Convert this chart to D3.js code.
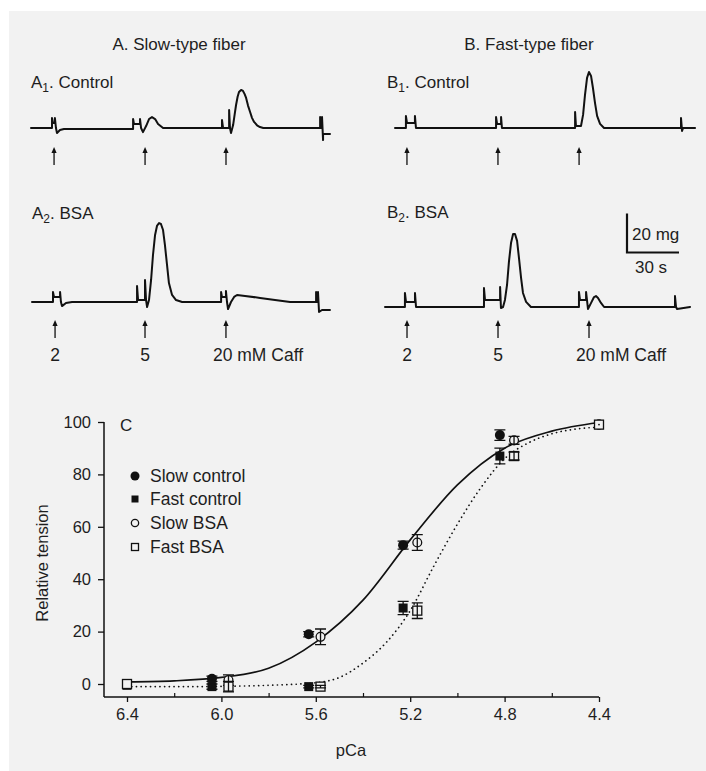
<!DOCTYPE html>
<html><head><meta charset="utf-8">
<script src="https://cdn.jsdelivr.net/npm/d3@7"></script>
<style>
body{margin:0;background:#fff}
svg{display:block}
text{font-family:"Liberation Sans",Arial,Helvetica,sans-serif;fill:#1e1e1e}
</style>
</head><body>
<svg id="c" width="706" height="771"></svg>
<script>
// ---------- Trace recordings: [time (s), tension (mg) relative to baseline] ----------
const traceA1 = [[0,0],[12.1,0],[12.1,5.1],[12.7,2.6],[13.8,2.6],[13.8,5.1],[14.4,0],[15.0,-2.6],[16.7,-1.0],[19.0,-0.5],[58.9,-0.5],[58.9,4.6],[59.4,2.1],[62.9,2.1],[62.9,4.6],[63.5,0],[64.6,-2.1],[66.4,1.0],[68.1,4.6],[69.8,5.6],[71.6,4.6],[73.3,2.1],[76.2,0],[110.2,0],[110.2,4.1],[110.8,0],[114.3,0],[114.3,9.2],[114.8,0],[115.4,-2.6],[116.6,1.5],[117.5,7],[118.3,11.8],[119.2,16],[120.0,18.5],[121.2,19.5],[122.3,19.0],[123.2,17.5],[124.1,15.4],[125.2,11.5],[126.4,8.2],[127.5,5.2],[128.7,3.1],[130.4,1.4],[132.1,0.5],[134,0],[166.8,0],[166.8,5.6],[167.3,0],[167.9,5.6],[168.5,-6.2],[168.5,-3.1],[172.5,-3.1]];
const traceA2 = [[0,0],[12.1,0],[12.1,5.1],[12.7,2.6],[16.2,2.6],[16.2,5.1],[16.7,0],[17.3,-2.1],[19.6,-0.5],[23.1,0],[60.6,0],[60.6,8.2],[61.2,1.0],[65.2,1.0],[65.2,11.3],[65.8,1.0],[66.4,-2.6],[67.5,1.0],[68.7,11.3],[69.8,24.1],[71.0,34.4],[72.1,39.0],[73.3,40.5],[74.4,40.0],[75.6,36.9],[76.7,29.2],[77.9,19.0],[79.0,9.7],[80.8,3.6],[83.1,1.0],[86.6,0],[109.1,0],[109.1,5.1],[109.6,2.6],[111.9,2.6],[111.9,5.6],[112.5,0],[113.1,-3.6],[114.8,0],[116.6,2.6],[118.3,3.6],[122.9,3.1],[131.6,2.1],[140.2,1.0],[148.9,0],[163.9,0],[163.9,5.1],[164.4,0],[165.0,5.1],[165.6,-5.1],[167.3,-4.1],[171.9,-4.1]];
const traceB1 = [[0,0],[6.3,0],[6.3,6.2],[6.9,2.6],[11.5,2.6],[11.5,6.2],[12.1,0],[58.3,0],[58.3,5.6],[58.9,2.1],[61.2,2.1],[61.2,5.6],[61.7,0],[103.9,0],[103.9,8.2],[104.4,1.0],[107.3,1.0],[108.5,6.7],[109.6,16.9],[110.8,25.7],[111.9,28.7],[113.1,26.7],[114.2,20.5],[115.4,12.8],[116.6,6.2],[118.3,2.1],[120.6,0],[165.0,0],[165.0,5.1],[165.6,-1.5],[166.2,0],[173.1,0]];
const traceB2 = [[0,0],[11.5,0],[11.5,7.2],[12.1,2.6],[17.3,2.6],[17.3,7.2],[17.9,0],[57.1,0],[57.1,9.7],[57.7,3.6],[66.4,3.6],[66.4,10.3],[66.9,-0.5],[68.1,0],[69.2,3.6],[70.4,11.3],[71.5,23.1],[72.7,32.8],[73.9,37.4],[75.0,37.4],[76.2,33.9],[77.3,25.1],[78.5,14.9],[79.6,7.2],[81.4,2.6],[84.2,0],[111.9,0],[111.9,7.7],[112.5,3.6],[116.0,3.6],[116.0,7.7],[117.1,-1.0],[118.9,2.1],[120.6,5.1],[121.7,5.6],[122.9,4.6],[124.6,2.1],[126.4,0],[167.3,0],[167.3,5.6],[167.9,0],[168.5,-1.0],[176.0,0]];
const stimA1 = [13.3, 65.8, 112.5];
const stimA2 = [13.3, 65.2, 111.9];
const stimB1 = [6.9, 59.4, 106.2];
const stimB2 = [12.7, 65.2, 117.7];
const stimLabels = ["2", "5", "20 mM Caff"];
const scaleBarTime = 30;   // s
const scaleBarForce = 20;  // mg

// ---------- Panel C: relative tension vs pCa ----------
const pCaControl = [6.4, 6.04, 5.63, 5.23, 4.82, 4.4];
const pCaBSA     = [6.4, 5.97, 5.58, 5.17, 4.76, 4.4];
const slowControl    = [0, 2, 19, 53, 95, 99];
const slowControlErr = [0, 1, 1, 1.5, 2, 0];
const fastControl    = [-0.5, -1, -1, 29, 87, 99];
const fastControlErr = [0, 1, 0.5, 2.5, 3, 0];
const slowBSA        = [0, 1.5, 18, 54, 93, 99];
const slowBSAErr     = [0, 2, 3, 3, 1.5, 0];
const fastBSA        = [0, -1, -1, 28, 87, 99];
const fastBSAErr     = [0, 2, 0.5, 3, 1.5, 0];
const fitSlowPCa = [6.4, 6.2, 6.0, 5.8, 5.6, 5.4, 5.2, 5.0, 4.8, 4.6, 4.4];
const fitSlow    = [0.8, 1.2, 2.5, 6, 16, 32, 55, 76, 90, 96.5, 99.8];
const fitFastPCa = [6.4, 6.2, 6.0, 5.8, 5.6, 5.5, 5.4, 5.3, 5.2, 5.1, 5.0, 4.9, 4.8, 4.7, 4.6, 4.5, 4.4];
const fitFast    = [-1, -1, -0.9, -0.5, 0.5, 2.5, 8, 16, 28, 45, 61, 75, 86, 92, 95.5, 97.3, 98];
const xTicks = [6.4, 6.0, 5.6, 5.2, 4.8, 4.4];
const xMinorTicks = [6.2, 5.8, 5.4, 5.0, 4.6];
const yTicks = [0, 20, 40, 60, 80, 100];
const legendLabels = ["Slow control", "Fast control", "Slow BSA", "Fast BSA"];

// ---------- Drawing ----------
const svg = d3.select("#c");
const BG = "#f2f2f2";
const INK = "#111";
svg.append("rect").attr("x", 9).attr("y", 11).attr("width", 697).attr("height", 760).attr("fill", BG);

// Titles
svg.append("text").attr("x", 179).attr("y", 50).attr("text-anchor", "middle").attr("font-size", 17).text("A. Slow-type fiber");
svg.append("text").attr("x", 529).attr("y", 50).attr("text-anchor", "middle").attr("font-size", 17).text("B. Fast-type fiber");

function subLabel(x, y, letter, sub, rest) {
  const t = svg.append("text").attr("x", x).attr("y", y).attr("font-size", 17);
  t.append("tspan").text(letter);
  t.append("tspan").attr("font-size", 12).attr("dy", 4).text(sub);
  t.append("tspan").attr("dy", -4).text(rest);
}
subLabel(31, 88, "A", "1", ". Control");
subLabel(32, 219, "A", "2", ". BSA");
subLabel(387, 88, "B", "1", ". Control");
subLabel(387, 218, "B", "2", ". BSA");

const pxPer30s = 52, pxPer20mg = 39;
function drawTrace(data, x0, y0, stims, arrowTop, labels) {
  const tx = d3.scaleLinear().domain([0, scaleBarTime]).range([x0, x0 + pxPer30s]);
  const ty = d3.scaleLinear().domain([0, scaleBarForce]).range([y0, y0 - pxPer20mg]);
  svg.append("path").datum(data)
    .attr("d", d3.line().x(d => tx(d[0])).y(d => ty(d[1])))
    .attr("fill", "none").attr("stroke", INK).attr("stroke-width", 2)
    .attr("stroke-linejoin", "round").attr("stroke-linecap", "round");
  stims.forEach((s, i) => {
    const ax = tx(s);
    svg.append("line").attr("x1", ax).attr("x2", ax).attr("y1", arrowTop + 4).attr("y2", arrowTop + 18)
      .attr("stroke", INK).attr("stroke-width", 1.3);
    svg.append("path").attr("d", `M${ax},${arrowTop} L${ax - 2.6},${arrowTop + 6} L${ax + 2.6},${arrowTop + 6} Z`).attr("fill", INK);
    if (labels) {
      const lbl = labels[i];
      const wide = lbl.length > 2;
      svg.append("text").attr("x", wide ? ax - 13 : ax).attr("y", arrowTop + 41)
        .attr("text-anchor", wide ? "start" : "middle").attr("font-size", 17.5).text(lbl);
    }
  });
  return {tx, ty};
}
drawTrace(traceA1, 31, 128, stimA1, 147, null);
drawTrace(traceA2, 32, 302, stimA2, 320, stimLabels);
drawTrace(traceB1, 395, 128, stimB1, 147, null);
const b2 = drawTrace(traceB2, 385, 307, stimB2, 320, stimLabels);

// Scale bar
{
  const sx = d3.scaleLinear().domain([0, scaleBarTime]).range([627, 627 + pxPer30s]);
  const sy = d3.scaleLinear().domain([0, scaleBarForce]).range([252.5, 252.5 - pxPer20mg]);
  svg.append("path").attr("d", `M${sx(0)},${sy(scaleBarForce)} V${sy(0)} H${sx(scaleBarTime)}`)
    .attr("fill", "none").attr("stroke", INK).attr("stroke-width", 2.2);
  svg.append("text").attr("x", 632).attr("y", 239.5).attr("font-size", 17).text(scaleBarForce + " mg");
  svg.append("text").attr("x", 651).attr("y", 272.5).attr("text-anchor", "middle").attr("font-size", 17).text(scaleBarTime + " s");
}

// Panel C
const x = d3.scaleLinear().domain([6.4, 4.4]).range([127, 599]);
const y = d3.scaleLinear().domain([0, 100]).range([684, 422]);
const axisY0 = 697, axisX0 = 104;

const gy = svg.append("g").attr("transform", `translate(${axisX0},0)`)
  .call(d3.axisLeft(y).tickValues(yTicks).tickSize(6).tickPadding(7));
gy.select(".domain").remove();
gy.selectAll("line").attr("stroke", INK).attr("stroke-width", 1.3);
gy.selectAll("text").attr("font-size", 16.5).attr("font-family", null).attr("fill", "#1e1e1e");
svg.append("line").attr("x1", axisX0).attr("x2", axisX0).attr("y1", y(100)).attr("y2", axisY0)
  .attr("stroke", INK).attr("stroke-width", 1.5);

const gx = svg.append("g").attr("transform", `translate(0,${axisY0})`)
  .call(d3.axisBottom(x).tickValues(xTicks).tickSize(5).tickPadding(6).tickFormat(d3.format(".1f")));
gx.select(".domain").remove();
gx.selectAll("line").attr("stroke", INK).attr("stroke-width", 1.3);
gx.selectAll("text").attr("font-size", 16.5).attr("font-family", null).attr("fill", "#1e1e1e");
const gxm = svg.append("g").attr("transform", `translate(0,${axisY0})`)
  .call(d3.axisBottom(x).tickValues(xMinorTicks).tickSize(-4).tickFormat(""));
gxm.select(".domain").remove();
gxm.selectAll("line").attr("stroke", INK).attr("stroke-width", 1.2);
svg.append("line").attr("x1", axisX0).attr("x2", x(4.4)).attr("y1", axisY0).attr("y2", axisY0)
  .attr("stroke", INK).attr("stroke-width", 1.5);

svg.append("text").attr("transform", `translate(42,563) rotate(-90)`).attr("text-anchor", "middle")
  .attr("dy", "0.35em").attr("font-size", 16.5).text("Relative tension");
svg.append("text").attr("x", 351).attr("y", 756).attr("text-anchor", "middle").attr("font-size", 16.5).text("pCa");
svg.append("text").attr("x", 120).attr("y", 431).attr("font-size", 17).text("C");

// Fit curves
const fitLine = d3.line().x(d => x(d[0])).y(d => y(d[1])).curve(d3.curveMonotoneX);
svg.append("path").datum(fitSlowPCa.map((p, i) => [p, fitSlow[i]]))
  .attr("d", fitLine).attr("fill", "none").attr("stroke", INK).attr("stroke-width", 1.7);
svg.append("path").datum(fitFastPCa.map((p, i) => [p, fitFast[i]]))
  .attr("d", fitLine).attr("fill", "none").attr("stroke", INK).attr("stroke-width", 1.7)
  .attr("stroke-dasharray", "0.1,4.6").attr("stroke-linecap", "round");

// Markers
const series = [
  {pca: pCaControl, v: slowControl, e: slowControlErr, shape: "circle", filled: true},
  {pca: pCaControl, v: fastControl, e: fastControlErr, shape: "square", filled: true},
  {pca: pCaBSA, v: slowBSA, e: slowBSAErr, shape: "circle", filled: false},
  {pca: pCaBSA, v: fastBSA, e: fastBSAErr, shape: "square", filled: false}
];
function marker(g, cx, cy, shape, filled, size) {
  if (shape === "circle") {
    g.append("circle").attr("cx", cx).attr("cy", cy).attr("r", filled ? size / 2 : size / 2 - 0.6)
      .attr("fill", filled ? INK : BG).attr("stroke", INK).attr("stroke-width", filled ? 0 : 1.3);
  } else {
    const s = filled ? size - 1 : size - 1;
    g.append("rect").attr("x", cx - s / 2).attr("y", cy - s / 2).attr("width", s).attr("height", s)
      .attr("fill", filled ? INK : BG).attr("stroke", INK).attr("stroke-width", filled ? 0 : 1.3);
  }
}
const gm = svg.append("g");
series.forEach(s => {
  s.pca.forEach((p, i) => {
    const cx = x(p), cy = y(s.v[i]);
    marker(gm, cx, cy, s.shape, s.filled, 10);
    if (s.e[i] > 0) {
      const y1 = y(s.v[i] + s.e[i]), y2 = y(s.v[i] - s.e[i]);
      gm.append("path").attr("d", `M${cx},${y1} V${y2} M${cx - 5.5},${y1} H${cx + 5.5} M${cx - 5.5},${y2} H${cx + 5.5}`)
        .attr("fill", "none").attr("stroke", INK).attr("stroke-width", 1.3);
    }
  });
});
// dot in center of the 4.4 open square
gm.append("circle").attr("cx", x(pCaBSA[5])).attr("cy", y(fastBSA[5])).attr("r", 0.9).attr("fill", INK);

// Legend
const legY = [476, 499, 523, 547];
series.forEach((s, i) => {
  marker(svg, 135, legY[i], s.shape, s.filled, s.shape === "circle" ? (s.filled ? 9 : 8.5) : 8);
  svg.append("text").attr("x", 150).attr("y", legY[i] + 6).attr("font-size", 17.5).text(legendLabels[i]);
});
</script>
</body></html>
